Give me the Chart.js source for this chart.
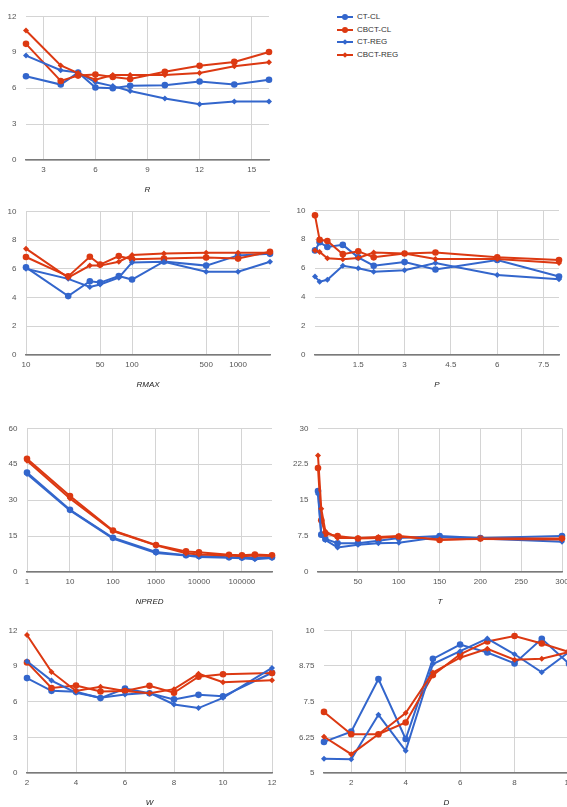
<!DOCTYPE html>
<html>
<head>
<meta charset="utf-8">
<script src="https://cdn.jsdelivr.net/npm/chart.js@4/dist/chart.umd.min.js"></script>
<style>
  html, body { margin: 0; padding: 0; background: #fff; width: 567px; height: 807px; overflow: hidden; position: relative; }
  canvas { position: absolute; }
  .legend { position: absolute; left: 337px; top: 0; font: 8px "Liberation Sans", Arial, sans-serif; color: #333; }
  .row { position: absolute; left: 0; width: 90px; height: 12px; }
  .row .ln { position: absolute; left: 0; top: 5px; width: 16px; height: 2px; }
  .row .dot { position: absolute; left: 5px; top: 3px; width: 6px; height: 6px; border-radius: 50%; }
  .row .dia { position: absolute; left: 6px; top: 4px; width: 4px; height: 4px; transform: rotate(45deg); }
  .row .tx { position: absolute; left: 20px; top: 1px; line-height: 10px; white-space: nowrap; }
</style>
</head>
<body>
<div class="legend" id="legend"></div>
<script>
// Series names and colours
const seriesNames = ['CT-CL', 'CBCT-CL', 'CT-REG', 'CBCT-REG'];
const seriesColors = ['#3366cc', '#dc3912', '#3366cc', '#dc3912'];

// R
const rX = [2, 4, 5, 6, 7, 8, 10, 12, 14, 16];
const rCtCl = [7.0, 6.3, 7.3, 6.05, 6.0, 6.2, 6.25, 6.55, 6.3, 6.7];
const rCbctCl = [9.7, 6.6, 7.05, 7.13, 6.94, 6.76, 7.37, 7.87, 8.19, 9.02];
const rCtReg = [8.72, 7.5, 7.31, 6.49, 6.17, 5.77, 5.13, 4.65, 4.89, 4.89];
const rCbctReg = [10.82, 7.9, 7.26, 6.7, 7.1, 7.1, 7.1, 7.26, 7.82, 8.16];
const rTicks = [3, 6, 9, 12, 15];

// RMAX
const rmaxX = [10, 25, 40, 50, 75, 100, 200, 500, 1000, 2000];
const rmaxCtCl = [6.1, 4.1, 5.13, 5.04, 5.49, 5.25, 6.51, 6.22, 6.93, 7.04];
const rmaxCbctCl = [6.82, 5.47, 6.84, 6.29, 6.89, 6.67, 6.71, 6.78, 6.71, 7.18];
const rmaxCtReg = [6.0, 5.3, 4.73, 4.91, 5.38, 6.44, 6.49, 5.8, 5.8, 6.49];
const rmaxCbctReg = [7.4, 5.38, 6.22, 6.22, 6.49, 6.96, 7.07, 7.11, 7.11, 7.11];
const rmaxTicks = [10, 50, 100, 500, 1000];

// P
const pX = [0.1, 0.25, 0.5, 1, 1.5, 2, 3, 4, 6, 8];
const pCtCl = [7.23, 7.79, 7.46, 7.61, 6.75, 6.17, 6.42, 5.91, 6.57, 5.42];
const pCbctCl = [9.65, 7.96, 7.88, 6.97, 7.17, 6.75, 7.01, 7.08, 6.75, 6.57];
const pCtReg = [5.42, 5.07, 5.2, 6.17, 5.99, 5.75, 5.86, 6.35, 5.53, 5.24];
const pCbctReg = [7.23, 7.12, 6.68, 6.62, 6.7, 7.08, 7.01, 6.64, 6.64, 6.35];
const pTicks = [1.5, 3, 4.5, 6, 7.5];

// NPRED
const npX = [1, 10, 100, 1000, 5000, 10000, 50000, 100000, 200000, 500000];
const npCtCl = [41.5, 26.0, 14.3, 8.4, 7.0, 6.7, 6.2, 6.1, 5.9, 6.2];
const npCbctCl = [47.3, 31.7, 17.3, 11.3, 8.6, 8.2, 7.2, 7.0, 7.3, 7.0];
const npCtReg = [40.9, 25.7, 14.0, 7.9, 6.9, 6.3, 5.9, 5.7, 5.3, 5.8];
const npCbctReg = [46.4, 30.7, 17.1, 11.1, 7.8, 7.3, 6.9, 6.6, 6.9, 6.7];
const npTicks = [1, 10, 100, 1000, 10000, 100000];

// T
const tX = [1, 5, 10, 25, 50, 75, 100, 150, 200, 300];
const tCtCl = [16.9, 7.8, 6.9, 6.0, 6.0, 6.5, 7.1, 7.5, 7.1, 7.5];
const tCbctCl = [21.7, 10.8, 8.0, 7.5, 7.0, 7.1, 7.4, 6.7, 7.0, 7.0];
const tCtReg = [16.3, 7.7, 6.7, 5.1, 5.7, 6.0, 6.1, 7.3, 7.0, 6.3];
const tCbctReg = [24.3, 13.2, 8.5, 7.1, 7.1, 7.3, 7.5, 6.8, 6.9, 6.8];
const tTicks = [50, 100, 150, 200, 250, 300];

// W
const wX = [2, 3, 4, 5, 6, 7, 8, 9, 10, 12];
const wCtCl = [7.98, 6.91, 6.83, 6.3, 7.1, 6.7, 6.19, 6.57, 6.45, 8.43];
const wCbctCl = [9.3, 7.15, 7.35, 6.85, 6.9, 7.34, 6.75, 8.1, 8.3, 8.4];
const wCtReg = [9.4, 7.77, 6.75, 6.32, 6.6, 6.75, 5.76, 5.46, 6.32, 8.84];
const wCbctReg = [11.6, 8.5, 6.9, 7.25, 6.9, 6.7, 7.05, 8.35, 7.64, 7.8];
const wTicks = [2, 4, 6, 8, 10, 12];

// D
const dX = [1, 2, 3, 4, 5, 6, 7, 8, 9, 10];
const dCtCl = [6.09, 6.45, 8.29, 6.19, 9.0, 9.5, 9.22, 8.84, 9.7, 8.83];
const dCbctCl = [7.14, 6.36, 6.36, 6.77, 8.43, 9.16, 9.61, 9.8, 9.54, 9.24];
const dCtReg = [5.5, 5.48, 7.04, 5.78, 8.82, 9.27, 9.71, 9.16, 8.53, 9.24];
const dCbctReg = [6.27, 5.66, 6.36, 7.1, 8.52, 9.04, 9.35, 8.97, 9.0, 9.24];
const dTicks = [2, 4, 6, 8, 10];

const FONT = '"Liberation Sans", Arial, sans-serif';
const YW = 30;   // y-axis band width
const PT = 8;    // space above plot
const PR = 14;   // space right of plot
const XH = 50;   // x-axis band height (labels + title)

function datasetStyle(i) {
  const circle = i < 2;
  return {
    borderColor: seriesColors[i],
    backgroundColor: seriesColors[i],
    borderWidth: 2,
    tension: 0,
    clip: false,
    pointStyle: circle ? 'circle' : 'rectRot',
    pointRadius: circle ? 3.3 : 3,
    pointBorderWidth: 0,
    pointBackgroundColor: seriesColors[i],
    order: 4 - i
  };
}

function plot(box, xs, series, xCfg, yCfg) {
  const L = Math.round(box.l), T = Math.round(box.t), R = Math.round(box.r), B = Math.round(box.b);
  const w = R - L + YW + PR, h = B - T + PT + XH;
  const cv = document.createElement('canvas');
  cv.width = w; cv.height = h;
  cv.style.left = (L - YW) + 'px';
  cv.style.top = (T - PT) + 'px';
  cv.style.width = w + 'px';
  cv.style.height = h + 'px';
  document.body.appendChild(cv);

  const datasets = series.map((vals, i) => Object.assign({
    label: seriesNames[i],
    data: xs.map((x, j) => ({ x: x, y: vals[j] }))
  }, datasetStyle(i)));

  new Chart(cv, {
    type: 'line',
    data: { datasets: datasets },
    options: {
      responsive: false,
      animation: false,
      devicePixelRatio: 1,
      layout: { padding: { top: PT, right: PR, left: 0, bottom: 0 } },
      plugins: { legend: { display: false }, tooltip: { enabled: false } },
      scales: {
        x: {
          type: xCfg.type || 'linear',
          min: xCfg.min,
          max: xCfg.max,
          afterBuildTicks: s => { s.ticks = xCfg.ticks.map(v => ({ value: v })); },
          afterFit: s => { s.height = XH; },
          grid: { color: '#d4d4d4', lineWidth: 1, drawTicks: false },
          border: { display: true, color: '#7a7a7a', width: 1.5 },
          ticks: {
            padding: 4.5, autoSkip: false, maxRotation: 0, color: '#555',
            font: { family: FONT, size: 8 },
            callback: v => String(v)
          },
          title: {
            display: true, text: xCfg.title, color: '#222',
            font: { family: FONT, size: 8, style: 'italic' },
            padding: { top: 0, bottom: 15.2 }
          }
        },
        y: {
          type: 'linear',
          min: yCfg.min,
          max: yCfg.max,
          afterFit: s => { s.width = YW; },
          grid: { color: '#d4d4d4', lineWidth: 1, drawTicks: false },
          border: { display: false },
          ticks: {
            stepSize: yCfg.step, padding: 9.5, color: '#555',
            font: { family: FONT, size: 8 },
            callback: v => String(v)
          }
        }
      }
    }
  });
}

plot({ l: 26, t: 10, r: 269, b: 160 }, rX, [rCtCl, rCbctCl, rCtReg, rCbctReg],
  { min: 2, max: 16, ticks: rTicks, title: 'R' }, { min: 0, max: 12, step: 3 });

plot({ l: 26, t: 205, r: 270, b: 355 }, rmaxX, [rmaxCtCl, rmaxCbctCl, rmaxCtReg, rmaxCbctReg],
  { type: 'logarithmic', min: 10, max: 2000, ticks: rmaxTicks, title: 'RMAX' }, { min: 0, max: 10, step: 2 });

plot({ l: 315, t: 204, r: 559, b: 355 }, pX, [pCtCl, pCbctCl, pCtReg, pCbctReg],
  { min: 0.1, max: 8, ticks: pTicks, title: 'P' }, { min: 0, max: 10, step: 2 });

plot({ l: 27, t: 422, r: 272, b: 572 }, npX, [npCtCl, npCbctCl, npCtReg, npCbctReg],
  { type: 'logarithmic', min: 1, max: 500000, ticks: npTicks, title: 'NPRED' }, { min: 0, max: 60, step: 15 });

plot({ l: 318, t: 422, r: 562, b: 572 }, tX, [tCtCl, tCbctCl, tCtReg, tCbctReg],
  { min: 1, max: 300, ticks: tTicks, title: 'T' }, { min: 0, max: 30, step: 7.5 });

plot({ l: 27, t: 624, r: 272, b: 773 }, wX, [wCtCl, wCbctCl, wCtReg, wCbctReg],
  { min: 2, max: 12, ticks: wTicks, title: 'W' }, { min: 0, max: 12, step: 3 });

plot({ l: 324, t: 624, r: 569, b: 773 }, dX, [dCtCl, dCbctCl, dCtReg, dCbctReg],
  { min: 1, max: 10, ticks: dTicks, title: 'D' }, { min: 5, max: 10, step: 1.25 });

// Legend
const legend = document.getElementById('legend');
const rowTops = [11, 24, 36, 49];
seriesNames.forEach((name, i) => {
  const row = document.createElement('div');
  row.className = 'row';
  row.style.top = rowTops[i] + 'px';
  const ln = document.createElement('div');
  ln.className = 'ln';
  ln.style.background = seriesColors[i];
  const mk = document.createElement('div');
  mk.className = i < 2 ? 'dot' : 'dia';
  mk.style.background = seriesColors[i];
  const tx = document.createElement('div');
  tx.className = 'tx';
  tx.textContent = name;
  row.appendChild(ln); row.appendChild(mk); row.appendChild(tx);
  legend.appendChild(row);
});
</script>
</body>
</html>
